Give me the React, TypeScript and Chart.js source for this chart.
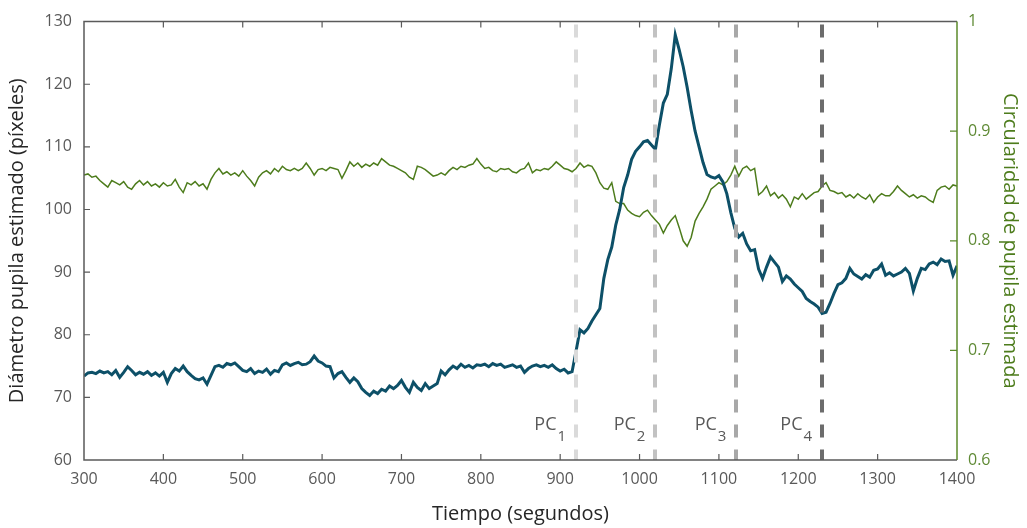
import React, { useEffect, useRef } from "react";
import { Chart, registerables } from "chart.js";

Chart.register(...registerables);

// Sampling of the recording (seconds)
const T_START = 300;
const T_STEP = 5;

// Estimated pupil diameter (pixels), left axis
const diameter = [
  73.4, 73.9, 74.0, 73.8, 74.2, 73.9, 74.1, 73.6, 74.3, 73.2,
  74.0, 74.9, 74.3, 73.6, 74.0, 73.7, 74.1, 73.5, 73.9, 73.4,
  74.0, 72.4, 73.8, 74.6, 74.2, 75.0, 74.1, 73.5, 73.0, 72.8,
  73.1, 72.1, 73.5, 74.9, 75.1, 74.8, 75.4, 75.2, 75.5, 74.9,
  74.3, 74.1, 74.6, 73.8, 74.2, 74.0, 74.5, 73.7, 74.3, 74.1,
  75.2, 75.5, 75.1, 75.4, 75.6, 75.2, 75.3, 75.7, 76.6, 75.8,
  75.5, 75.0, 74.9, 73.1, 73.8, 74.1, 73.2, 72.4, 73.1, 72.5,
  71.4, 70.8, 70.3, 71.0, 70.6, 71.3, 71.0, 71.8, 71.4, 71.9,
  72.7, 71.6, 70.8, 72.4, 71.6, 71.1, 72.2, 71.4, 71.8, 72.2,
  74.2, 73.6, 74.4, 75.0, 74.6, 75.3, 74.8, 75.1, 74.7, 75.2,
  75.1, 75.3, 74.9, 75.4, 75.1, 75.3, 74.8, 75.0, 75.2, 74.8,
  75.0, 74.0, 74.6, 75.0, 75.2, 74.9, 75.1, 74.8, 75.2, 74.6,
  74.2, 74.5, 73.9, 74.1, 77.4, 80.8, 80.3, 81.0, 82.2, 83.2,
  84.2, 89.0, 92.0, 94.0, 97.5, 100.0, 103.5, 105.5, 108.0, 109.3,
  110.0, 110.8, 111.0, 110.3, 109.6, 113.5, 117.0, 118.4, 122.5, 127.9,
  125.5, 122.8, 119.5, 115.8, 112.5, 110.0, 107.5, 105.6, 105.2, 105.0,
  105.4, 104.4, 102.5, 99.5, 97.0, 95.6, 96.2, 94.5, 93.4, 93.6,
  90.5, 89.0, 90.8, 92.4, 91.6, 90.8, 88.5, 89.4, 88.9, 88.1,
  87.5, 86.9, 85.8, 85.3, 84.9, 84.4, 83.4, 83.6, 85.0, 86.6,
  88.0, 88.3, 89.0, 90.6, 89.7, 89.3, 88.9, 89.6, 89.2, 90.3,
  90.5, 91.3, 89.5, 89.9, 89.4, 89.7, 90.0, 90.6, 89.8, 87.0,
  89.0, 90.6, 90.4, 91.3, 91.6, 91.2, 92.1, 91.7, 91.8, 89.5,
  91.0,
];

// Estimated pupil circularity, right axis
const circularity = [
  0.860, 0.861, 0.858, 0.859, 0.855, 0.852, 0.849, 0.855, 0.853, 0.851,
  0.854, 0.849, 0.847, 0.852, 0.855, 0.851, 0.854, 0.850, 0.852, 0.849,
  0.853, 0.850, 0.851, 0.856, 0.849, 0.844, 0.853, 0.851, 0.854, 0.850,
  0.852, 0.847, 0.856, 0.862, 0.866, 0.861, 0.863, 0.860, 0.862, 0.859,
  0.864, 0.859, 0.855, 0.850, 0.858, 0.862, 0.864, 0.861, 0.866, 0.863,
  0.868, 0.865, 0.864, 0.866, 0.864, 0.866, 0.871, 0.866, 0.860, 0.865,
  0.866, 0.864, 0.867, 0.866, 0.865, 0.857, 0.864, 0.872, 0.868, 0.871,
  0.867, 0.870, 0.868, 0.871, 0.869, 0.875, 0.872, 0.869, 0.868, 0.866,
  0.864, 0.862, 0.858, 0.856, 0.868, 0.867, 0.865, 0.862, 0.859, 0.860,
  0.862, 0.860, 0.864, 0.867, 0.865, 0.868, 0.867, 0.869, 0.870, 0.875,
  0.870, 0.866, 0.867, 0.864, 0.863, 0.866, 0.865, 0.866, 0.863, 0.862,
  0.865, 0.866, 0.871, 0.862, 0.865, 0.864, 0.866, 0.865, 0.868, 0.872,
  0.869, 0.866, 0.865, 0.863, 0.866, 0.871, 0.867, 0.869, 0.868, 0.862,
  0.853, 0.848, 0.847, 0.853, 0.836, 0.834, 0.834, 0.828, 0.825, 0.823,
  0.822, 0.826, 0.828, 0.823, 0.819, 0.815, 0.807, 0.814, 0.819, 0.823,
  0.812, 0.800, 0.795, 0.803, 0.818, 0.825, 0.831, 0.838, 0.847, 0.850,
  0.853, 0.851, 0.854, 0.860, 0.868, 0.859, 0.866, 0.868, 0.864, 0.866,
  0.842, 0.845, 0.850, 0.841, 0.844, 0.839, 0.842, 0.838, 0.831, 0.840,
  0.838, 0.843, 0.838, 0.841, 0.844, 0.845, 0.850, 0.853, 0.846, 0.845,
  0.843, 0.844, 0.840, 0.842, 0.839, 0.843, 0.840, 0.838, 0.842, 0.835,
  0.840, 0.843, 0.841, 0.841, 0.845, 0.850, 0.846, 0.843, 0.840, 0.842,
  0.839, 0.841, 0.840, 0.837, 0.835, 0.846, 0.849, 0.850, 0.847, 0.851,
  0.850,
];

// Control points (PC) in seconds and their subscripts
const pcTimes = [920, 1020, 1122, 1230];
const pcLabels = ["1", "2", "3", "4"];

const xTitle = "Tiempo (segundos)";
const yTitle = "Diámetro pupila estimado (píxeles)";
const y1Title = "Circularidad de pupila estimada";

const FONT = "'Open Sans', 'Noto Sans', sans-serif";
const BLUE = "#0d5068";
const GREEN = "#4d7c1c";
const AXIS = "#5a5a5a";
const TEXT = "#595959";
const PC_COLORS = ["#dadada", "#c2c2c2", "#a8a8a8", "#6c6c6c"];

const framePlugin = {
  id: "framePlugin",
  afterDatasetsDraw(chart: any) {
    const ctx = chart.ctx as CanvasRenderingContext2D;
    const { left, right, top, bottom } = chart.chartArea;
    const xs = chart.scales.x;
    const ys = chart.scales.y;
    const ys1 = chart.scales.y1;
    ctx.save();

    // dashed PC lines
    pcTimes.forEach((t, i) => {
      const px = Math.round(xs.getPixelForValue(t));
      ctx.strokeStyle = PC_COLORS[i];
      ctx.lineWidth = 4;
      ctx.setLineDash([13, 12]);
      ctx.beginPath();
      ctx.moveTo(px, top + 3);
      ctx.lineTo(px, bottom);
      ctx.stroke();
    });
    ctx.setLineDash([]);

    // PC labels
    pcTimes.forEach((t, i) => {
      const px = xs.getPixelForValue(t);
      ctx.fillStyle = TEXT;
      ctx.textBaseline = "alphabetic";
      ctx.textAlign = "right";
      ctx.font = `15px ${FONT}`;
      const subRight = px - 10;
      ctx.fillText(pcLabels[i], subRight, 441);
      const sw = ctx.measureText(pcLabels[i]).width;
      ctx.font = `18px ${FONT}`;
      ctx.fillText("PC", subRight - sw - 1, 430);
    });

    // axis box
    ctx.lineWidth = 1.5;
    ctx.strokeStyle = AXIS;
    ctx.beginPath();
    ctx.moveTo(right, top);
    ctx.lineTo(left, top);
    ctx.lineTo(left, bottom);
    ctx.lineTo(right, bottom);
    ctx.stroke();
    ctx.strokeStyle = "#5b8a2a";
    ctx.beginPath();
    ctx.moveTo(right, top);
    ctx.lineTo(right, bottom);
    ctx.stroke();

    // inward ticks
    ctx.lineWidth = 1.2;
    ctx.strokeStyle = AXIS;
    ctx.beginPath();
    xs.ticks.forEach((tk: any) => {
      const px = xs.getPixelForValue(tk.value);
      if (px <= left + 1 || px >= right - 1) return;
      ctx.moveTo(px, bottom);
      ctx.lineTo(px, bottom - 6);
      ctx.moveTo(px, top);
      ctx.lineTo(px, top + 6);
    });
    ys.ticks.forEach((tk: any) => {
      const py = ys.getPixelForValue(tk.value);
      if (py <= top + 1 || py >= bottom - 1) return;
      ctx.moveTo(left, py);
      ctx.lineTo(left + 6, py);
    });
    ctx.stroke();
    ctx.strokeStyle = "#5b8a2a";
    ctx.beginPath();
    ys1.ticks.forEach((tk: any) => {
      const py = ys1.getPixelForValue(tk.value);
      if (py <= top + 1 || py >= bottom - 1) return;
      ctx.moveTo(right, py);
      ctx.lineTo(right - 7, py);
    });
    ctx.stroke();

    // axis titles
    ctx.textAlign = "center";
    ctx.textBaseline = "middle";
    ctx.font = `20px ${FONT}`;
    ctx.fillStyle = "#262626";
    ctx.fillText(xTitle, (left + right) / 2, 514);

    ctx.save();
    ctx.translate(17, (top + bottom) / 2);
    ctx.rotate(-Math.PI / 2);
    ctx.fillText(yTitle, 0, 0);
    ctx.restore();

    ctx.save();
    ctx.fillStyle = GREEN;
    ctx.translate(1010, (top + bottom) / 2);
    ctx.rotate(Math.PI / 2);
    ctx.fillText(y1Title, 0, 0);
    ctx.restore();

    ctx.restore();
  },
};

export default function App() {
  const canvasRef = useRef<HTMLCanvasElement | null>(null);

  useEffect(() => {
    if (!canvasRef.current) return;
    const blueData = diameter.map((v, i) => ({ x: T_START + i * T_STEP, y: v }));
    const greenData = circularity.map((v, i) => ({ x: T_START + i * T_STEP, y: v }));
    const chart = new Chart(canvasRef.current, {
      type: "line",
      data: {
        datasets: [
          {
            label: "Diámetro",
            data: blueData,
            yAxisID: "y",
            borderColor: BLUE,
            borderWidth: 3,
            pointRadius: 0,
            tension: 0,
            order: 0,
          },
          {
            label: "Circularidad",
            data: greenData,
            yAxisID: "y1",
            borderColor: GREEN,
            borderWidth: 1.5,
            pointRadius: 0,
            tension: 0,
            order: 1,
          },
        ],
      },
      options: {
        responsive: false,
        animation: false,
        events: [],
        layout: { padding: { top: 17, left: 0, right: 0, bottom: 0 } },
        plugins: { legend: { display: false }, tooltip: { enabled: false } },
        scales: {
          x: {
            type: "linear",
            min: 300,
            max: 1400,
            grid: { display: false, drawTicks: false },
            border: { display: false },
            ticks: {
              stepSize: 100,
              autoSkip: false,
              maxRotation: 0,
              padding: 10,
              color: TEXT,
              font: { family: FONT, size: 16 },
              callback: (v: any) => String(v),
            },
            afterFit: (s: any) => { s.height = 68; },
          },
          y: {
            position: "left",
            min: 60,
            max: 130,
            grid: { display: false, drawTicks: false },
            border: { display: false },
            ticks: {
              stepSize: 10,
              padding: 12,
              color: TEXT,
              font: { family: FONT, size: 16 },
              callback: (v: any) => String(v),
            },
            afterFit: (s: any) => { s.width = 84; },
          },
          y1: {
            position: "right",
            min: 0.6,
            max: 1,
            grid: { display: false, drawTicks: false },
            border: { display: false },
            ticks: {
              stepSize: 0.1,
              padding: 11,
              color: "#5f8a35",
              font: { family: FONT, size: 16 },
              callback: (v: any) => String(Math.round(Number(v) * 10) / 10),
            },
            afterFit: (s: any) => { s.width = 70; },
          },
        },
      } as any,
      plugins: [framePlugin],
    });
    return () => chart.destroy();
  }, []);

  return (
    <div style={{ position: "fixed", left: 0, top: 0, width: 1027, height: 528, background: "#fff" }}>
      <canvas ref={canvasRef} width={1027} height={528} style={{ display: "block" }} />
    </div>
  );
}
